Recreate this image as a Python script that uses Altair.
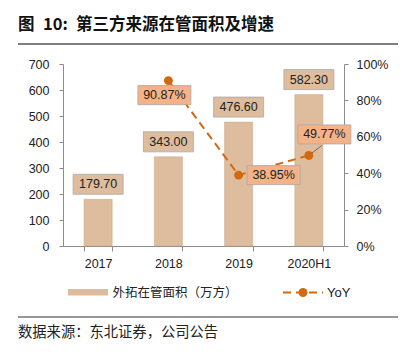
import altair as alt
import pandas as pd

# ---- data ----
categories = ["2017", "2018", "2019", "2020H1"]
area = [179.70, 343.00, 476.60, 582.30]
yoy_cats = ["2018", "2019", "2020H1"]
yoy = [0.9087, 0.3895, 0.4977]

title_parts = ["图", "10:", "第三方来源在管面积及增速"]
footer_text = "数据来源：东北证券，公司公告"
bar_name = "外拓在管面积（万方）"
line_name = "YoY"

bar_df = pd.DataFrame({"cat": categories, "area": area,
                       "label": [f"{v:.2f}" for v in area]})
yoy_df = pd.DataFrame({"cat": yoy_cats, "yoy": yoy,
                       "label": [f"{v*100:.2f}%" for v in yoy]})

# ---- style ----
W, H = 281, 182
BAR = "#DDBD9D"
LINE = "#D2690F"
YBOX = "#F6B287"
BORDER = "#A8A8A8"
NUMFONT = "Liberation Sans"
CJK = "Noto Sans CJK SC"
TXT = "#222222"

xenc = alt.X("cat:N", sort=categories,
             scale=alt.Scale(domain=categories, paddingInner=0.6, paddingOuter=0.3),
             axis=alt.Axis(title=None, labelAngle=0, tickBand="extent", tickSize=5,
                           labelPadding=6))

ybar = alt.Y("area:Q", scale=alt.Scale(domain=[0, 700], nice=False),
             axis=alt.Axis(title=None, values=list(range(0, 701, 100)), orient="left",
                           tickSize=4, labelPadding=10))

bars = alt.Chart(bar_df).mark_bar(color=BAR, stroke="#C9A787", strokeWidth=0.5).encode(x=xenc, y=ybar)
box_path = "M-1,-0.4 L1,-0.4 L1,0.4 L-1,0.4 Z"
bar_boxes = alt.Chart(bar_df).mark_point(shape=box_path, size=2500, filled=True, fill=BAR,
                                         stroke=BORDER, strokeWidth=0.8, opacity=1,
                                         yOffset=-15).encode(x=xenc, y=ybar)
bar_text = alt.Chart(bar_df).mark_text(yOffset=-15, font=NUMFONT, fontSize=12.5, color=TXT,
                                       baseline="middle").encode(x=xenc, y=ybar, text="label:N")
bar_layer = alt.layer(bars, bar_boxes, bar_text)

yline = alt.Y("yoy:Q", scale=alt.Scale(domain=[0, 1], nice=False),
              axis=alt.Axis(title=None, values=[0, 0.2, 0.4, 0.6, 0.8, 1.0], format=".0%",
                            orient="right", tickSize=4, labelPadding=8))

line = alt.Chart(yoy_df).mark_line(color=LINE, strokeWidth=2, strokeDash=[8, 5]).encode(
    x=xenc, y=yline, order=alt.Order("cat:N"))
pts = alt.Chart(yoy_df).mark_point(filled=True, color=LINE, size=80, opacity=1).encode(x=xenc, y=yline)

leader = alt.Chart(yoy_df).transform_filter(alt.datum.cat == "2020H1").mark_point(
    shape="M0,0 L1,-0.77", size=676, filled=False, stroke="#555555", strokeWidth=0.8,
    opacity=1).encode(x=xenc, y=yline)

offsets = {"2018": (-4, 14.5), "2019": (35, 0), "2020H1": (15.5, -21)}
ybox_path = "M-1,-0.36 L1,-0.36 L1,0.36 L-1,0.36 Z"
yoy_labels = []
for c, (dx, dy) in offsets.items():
    base = alt.Chart(yoy_df).transform_filter(alt.datum.cat == c)
    yoy_labels.append(base.mark_point(shape=ybox_path, size=2809, filled=True, fill=YBOX,
                                      stroke=BORDER, strokeWidth=0.8, opacity=1,
                                      xOffset=dx, yOffset=dy).encode(x=xenc, y=yline))
    yoy_labels.append(base.mark_text(xOffset=dx, yOffset=dy, font=NUMFONT, fontSize=12.5,
                                     color=TXT, baseline="middle").encode(
        x=xenc, y=yline, text="label:N"))

line_layer = alt.layer(line, leader, pts, *yoy_labels)

# ---- decorations (title, legend, footer) ----
one = pd.DataFrame({"t0": [title_parts[0]], "t1": [title_parts[1]], "t2": [title_parts[2]],
                    "f": [footer_text], "b": [bar_name], "l": [line_name]})
d = alt.Chart(one)
tstyle = dict(align="left", baseline="middle", font=CJK, fontSize=16.5,
              fontWeight="bold", color="#111111")
title0 = d.mark_text(**tstyle).encode(x=alt.value(-45), y=alt.value(-39), text="t0:N")
title1 = d.mark_text(**tstyle).encode(x=alt.value(-20), y=alt.value(-39), text="t1:N")
title2 = d.mark_text(**tstyle).encode(x=alt.value(13), y=alt.value(-39), text="t2:N")
title_rule = d.mark_rule(color="#555555", strokeWidth=1.5).encode(
    x=alt.value(-45), x2=alt.value(335), y=alt.value(-20))
foot_rule = d.mark_rule(color="#333333", strokeWidth=1).encode(
    x=alt.value(-45), x2=alt.value(335), y=alt.value(253))
footer = d.mark_text(align="left", baseline="middle", font=CJK, fontSize=14.3,
                     color="#222222").encode(x=alt.value(-45), y=alt.value(269), text="f:N")
leg_sw = d.mark_rect(color=BAR).encode(x=alt.value(5), x2=alt.value(45),
                                       y=alt.value(225), y2=alt.value(231.5))
leg_bt = d.mark_text(align="left", baseline="middle", font=CJK, fontSize=12.5,
                     color=TXT).encode(x=alt.value(49.5), y=alt.value(228.5), text="b:N")
leg_line = d.mark_rule(color=LINE, strokeWidth=2, strokeDash=[8, 5]).encode(
    x=alt.value(220), x2=alt.value(260), y=alt.value(228.5))
leg_pt = d.mark_point(filled=True, color=LINE, size=80, opacity=1).encode(
    x=alt.value(240), y=alt.value(228.5))
leg_lt = d.mark_text(align="left", baseline="middle", font=NUMFONT, fontSize=13,
                     color=TXT).encode(x=alt.value(264), y=alt.value(228.5), text="l:N")
deco = alt.layer(title0, title1, title2, title_rule, foot_rule, footer,
                 leg_sw, leg_bt, leg_line, leg_pt, leg_lt)

chart = alt.layer(bar_layer, line_layer, deco).resolve_scale(y="independent").properties(
    width=W, height=H,
    autosize=alt.AutoSizeParams(type="none"),
    padding={"left": 63, "top": 64, "right": 63, "bottom": 108},
    background="white",
).configure_view(stroke=None).configure_axis(
    grid=False, labelFont=NUMFONT, labelFontSize=12.5, labelColor=TXT,
    domainColor="#8C8C8C", tickColor="#8C8C8C", domainWidth=1)

chart.save("out.html", embed_options={"renderer": "svg", "actions": False})
